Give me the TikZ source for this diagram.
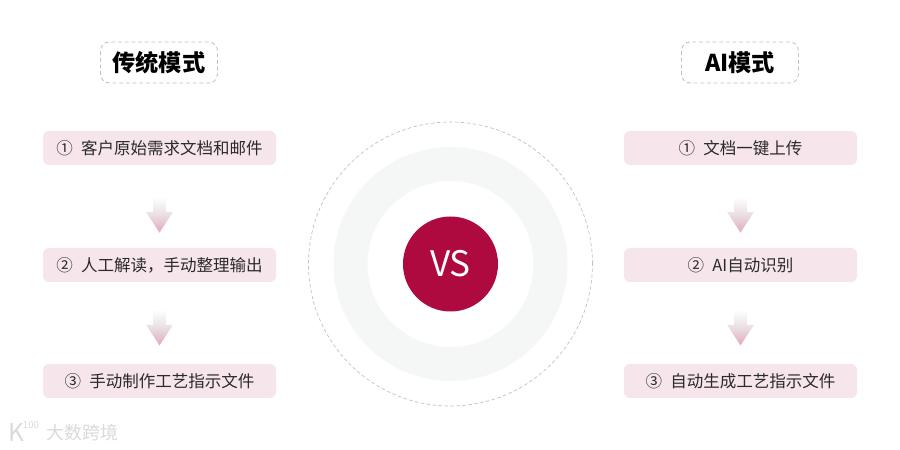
\documentclass[tikz,border=0pt]{standalone}
\usepackage{fontspec}
\setmainfont{Noto Sans CJK SC}
\usepackage{xcolor}
\usepackage{tikz}
\usetikzlibrary{shapes.arrows}

\definecolor{boxpink}{HTML}{F6E5EA}
\definecolor{arrowpink}{HTML}{E2A9BC}
\definecolor{arrowmid}{HTML}{E9DFE2}
\definecolor{ringgray}{HTML}{F5F7F6}
\definecolor{vsred}{HTML}{AE0A40}
\definecolor{dashgray}{HTML}{C2C2C2}
\definecolor{inkgray}{HTML}{2A2A2A}
\definecolor{markgray}{HTML}{DADADA}

\tikzset{
    modetitle/.style={draw=dashgray, dash pattern=on 2.2pt off 1.6pt, rounded corners=5pt, line width=0.5pt,
        minimum width=2.34cm, minimum height=0.82cm, inner sep=0pt,
        font=\fontsize{13.2}{14}\selectfont\bfseries, text=black},
    stepbox/.style={fill=boxpink, rounded corners=3.5pt,
        minimum width=4.66cm, minimum height=0.68cm, inner sep=0pt,
        font=\fontsize{9.4}{10}\selectfont, text=inkgray},
    flowarrow/.style={single arrow, shape border rotate=270, draw=none, inner sep=3.4pt,
        minimum height=0.72cm, minimum width=0.52cm,
        single arrow head extend=0.14cm, single arrow tip angle=66,
        single arrow head indent=0pt,
        top color=white, bottom color=arrowpink, middle color=arrowmid},
}

\begin{document}
\begin{tikzpicture}
    \useasboundingbox (0,0) rectangle (18,9);
    \fill[white] (0,0) rectangle (18,9);

    % left column
    \node[modetitle] (tradtitle) at (3.18,7.75) {传统模式};
    \node[stepbox] (trad1) at (3.19,6.04) {①\hspace{0.5em}客户原始需求文档和邮件};
    \node[stepbox] (trad2) at (3.19,3.70) {②\hspace{0.5em}人工解读，手动整理输出};
    \node[stepbox] (trad3) at (3.19,1.38) {③\hspace{0.5em}手动制作工艺指示文件};
    \path (trad1) -- (trad2) node[flowarrow, pos=0.54] (tradarrow1) {};
    \path (trad2) -- (trad3) node[flowarrow, pos=0.495] (tradarrow2) {};

    % centre
    \node[circle, draw=dashgray, dash pattern=on 2pt off 1.4pt, line width=0.4pt, minimum size=5.68cm] (outerring) at (9.01,3.72) {};
    \fill[ringgray, even odd rule] (outerring.center) circle (2.34) (outerring.center) circle (1.66);
    \node[circle, fill=vsred, text=white, minimum size=1.9cm, inner sep=0pt,
        font=\fontsize{20}{20}\selectfont] (versus) at (outerring.center) {VS};

    % right column
    \node[modetitle] (aititle) at (14.80,7.75) {AI模式};
    \node[stepbox] (ai1) at (14.81,6.04) {①\hspace{0.5em}文档一键上传};
    \node[stepbox] (ai2) at (14.81,3.70) {②\hspace{0.5em}AI自动识别};
    \node[stepbox] (ai3) at (14.81,1.38) {③\hspace{0.5em}自动生成工艺指示文件};
    \path (ai1) -- (ai2) node[flowarrow, pos=0.54] (aiarrow1) {};
    \path (ai2) -- (ai3) node[flowarrow, pos=0.495] (aiarrow2) {};

    % watermark
    \node[text=markgray, font=\fontsize{10.2}{11}\selectfont] (watermark) at (1.65,0.34) {大数跨境};
    \node[text=markgray, font=\fontsize{14}{14}\selectfont] (marklogo) at (0.32,0.35) {K};
    \node[text=markgray, font=\fontsize{5.5}{6}\selectfont] (marknum) at (0.62,0.5) {100};
\end{tikzpicture}
\end{document}
